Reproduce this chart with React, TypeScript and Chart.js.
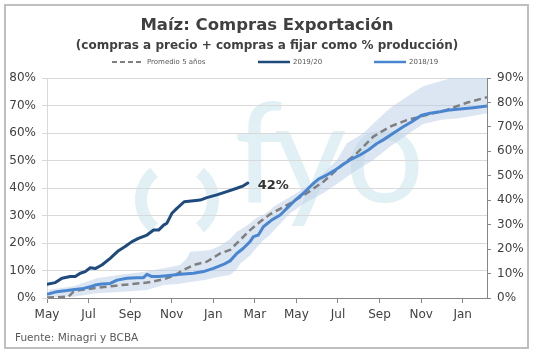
import React, { useEffect, useRef } from 'react';
import { Chart, registerables } from 'chart.js';

Chart.register(...registerables);

const FONT = 'DejaVu Sans';

// x values are months counted from the first "May" tick
const MONTH_TICKS = ['May', 'Jul', 'Sep', 'Nov', 'Jan', 'Mar', 'May', 'Jul', 'Sep', 'Nov', 'Jan'];
const X_MAX = 21.17;

const SERIES_NAMES = ['Promedio 5 años', '2019/20', '2018/19'];

const CUR_X = [0, 0.4, 0.72, 1.12, 1.36, 1.6, 1.84, 2.08, 2.32, 2.64, 3.04, 3.44, 3.76, 4.09, 4.4, 4.81, 5.13, 5.37, 5.61, 5.77, 6.01, 6.25, 6.6, 7.05, 7.37, 7.69, 8.17, 8.65, 9.13, 9.45, 9.66];
const CUR_Y = [5.0, 5.6, 7.2, 7.8, 7.8, 9.0, 9.6, 11.0, 10.7, 12.0, 14.4, 17.2, 18.7, 20.5, 21.7, 22.9, 24.7, 24.7, 26.5, 27.2, 30.8, 32.6, 35.0, 35.4, 35.6, 36.5, 37.5, 38.7, 39.9, 40.8, 41.8];

const PREV_X = [0, 0.48, 0.96, 1.44, 1.76, 2.08, 2.32, 2.64, 3.04, 3.37, 3.85, 4.33, 4.64, 4.81, 5.05, 5.37, 5.77, 6.41, 7.05, 7.53, 8.01, 8.49, 8.81, 9.13, 9.45, 9.77, 9.93, 10.17, 10.41, 10.82, 11.22, 11.54, 11.94, 12.34, 12.74, 13.06, 13.46, 13.86, 14.26, 14.58, 15.06, 15.46, 15.87, 16.18, 16.66, 17.14, 17.55, 18.03, 18.43, 18.91, 19.39, 19.87, 20.51, 21.17];
const PREV_Y = [1.3, 2.3, 2.7, 3.2, 3.5, 4.1, 4.7, 5.1, 5.3, 6.5, 7.2, 7.4, 7.4, 8.6, 7.8, 7.8, 8.1, 8.6, 9.0, 9.6, 10.8, 12.2, 13.5, 16.2, 18.1, 20.5, 22.3, 22.9, 25.9, 28.4, 30.2, 32.6, 35.6, 38.1, 41.1, 43.2, 44.7, 46.5, 48.6, 50.2, 52.0, 53.8, 56.2, 57.5, 59.9, 62.3, 64.1, 66.5, 67.2, 67.7, 68.4, 68.7, 69.2, 69.8];

const AVG_X = [0, 0.48, 1.04, 1.28, 1.6, 2.4, 3.2, 4.0, 4.81, 5.61, 6.09, 6.57, 7.05, 7.69, 8.33, 8.81, 9.29, 9.77, 10.25, 10.74, 11.7, 12.5, 13.3, 14.1, 14.9, 15.7, 16.5, 17.31, 17.95, 18.43, 19.23, 20.19, 21.17];
const AVG_Y = [0.2, 0.3, 0.5, 2.3, 2.9, 3.7, 4.4, 5.0, 5.6, 6.8, 8.0, 10.2, 12.0, 13.2, 16.2, 17.5, 21.1, 24.7, 27.7, 30.5, 34.4, 38.1, 42.3, 47.7, 52.6, 58.7, 62.3, 64.7, 65.9, 66.9, 68.4, 71.0, 73.0];

const BAND_X = [0.1, 1.28, 2.4, 3.68, 4.81, 5.61, 6.41, 6.73, 6.89, 7.53, 7.85, 8.33, 8.81, 9.13, 9.29, 9.77, 10.1, 10.41, 10.74, 10.9, 11.7, 12.5, 13.3, 13.94, 14.1, 14.42, 14.9, 15.22, 15.7, 16.5, 17.31, 18.1, 18.91, 19.23, 19.71, 20.19, 21.17];
const BAND_MAX = [3.0, 4.3, 7.2, 8.6, 9.6, 10.8, 12.0, 14.5, 16.8, 17.2, 17.5, 19.0, 21.5, 24.1, 24.7, 27.2, 29.3, 30.2, 32.0, 33.2, 36.8, 40.5, 45.3, 50.2, 52.0, 56.2, 58.5, 59.9, 63.5, 69.0, 73.2, 77.0, 78.8, 79.5, 81.0, 82.0, 84.0];
const BAND_MIN = [0.2, 0.5, 1.7, 2.3, 2.9, 4.7, 5.2, 5.6, 5.8, 6.5, 7.0, 7.8, 8.4, 10.5, 12.5, 15.5, 18.5, 21.0, 23.0, 24.5, 30.8, 35.0, 38.1, 41.5, 42.3, 44.0, 46.5, 48.0, 50.2, 55.0, 59.3, 63.3, 64.7, 65.0, 65.3, 65.8, 67.2];

const C_CUR = '#1F4A7E';
const C_PREV = '#4A86D0';
const C_AVG = '#7F7F7F';
const C_BAND = 'rgba(185,205,229,0.5)';
const C_WM = '#e1f0f4';
const C_TEXT = '#404040';

const pts = (xs: number[], ys: number[]) => xs.map((x, i) => ({ x, y: ys[i] }));

const decorPlugin = {
  id: 'decor',
  beforeDraw(chart: any) {
    const { ctx, chartArea } = chart;
    ctx.save();
    ctx.fillStyle = '#ffffff';
    ctx.fillRect(0, 0, chart.width, chart.height);
    ctx.strokeStyle = '#bfbfbf';
    ctx.lineWidth = 2;
    ctx.strokeRect(5, 5, 523, 343);
    // watermark logo
    const L = chartArea.left, T = chartArea.top;
    ctx.strokeStyle = C_WM;
    ctx.lineWidth = 12;
    const cx = L + 130, cy = T + 122, r = 36;
    ctx.beginPath();
    ctx.arc(cx, cy, r, Math.PI * 0.72, Math.PI * 1.28);
    ctx.stroke();
    ctx.beginPath();
    ctx.arc(cx, cy, r, -Math.PI * 0.28, Math.PI * 0.28);
    ctx.stroke();
    ctx.fillStyle = C_WM;
    ctx.font = '140px Lato';
    ctx.textBaseline = 'alphabetic';
    ctx.textAlign = 'left';
    const place = (ch: string, left: number) => {
      const m = ctx.measureText(ch);
      ctx.fillText(ch, left + m.actualBoundingBoxLeft, T + 124);
    };
    place('f', L + 190);
    place('y', L + 228);
    place('o', L + 303);
    ctx.restore();
  },
  afterDatasetsDraw(chart: any) {
    const { ctx } = chart;
    const meta = chart.getDatasetMeta(0);
    const last = meta.data[meta.data.length - 1];
    ctx.save();
    ctx.font = `bold 13px "${FONT}"`;
    ctx.fillStyle = '#333333';
    ctx.textBaseline = 'middle';
    ctx.textAlign = 'left';
    ctx.fillText(Math.round(CUR_Y[CUR_Y.length - 1]) + '%', last.x + 10, last.y + 3);
    ctx.restore();
  },
  afterDraw(chart: any) {
    const { ctx } = chart;
    ctx.save();
    // legend
    const items = [
      { name: SERIES_NAMES[0], color: C_AVG, dash: [5, 3], w: 2, x: 112 },
      { name: SERIES_NAMES[1], color: C_CUR, dash: [], w: 2.5, x: 258 },
      { name: SERIES_NAMES[2], color: C_PREV, dash: [], w: 2.5, x: 374 },
    ];
    const ly = 62;
    ctx.font = `7px "${FONT}"`;
    ctx.textBaseline = 'middle';
    ctx.textAlign = 'left';
    items.forEach((it) => {
      ctx.strokeStyle = it.color;
      ctx.lineWidth = it.w;
      ctx.setLineDash(it.dash);
      ctx.beginPath();
      ctx.moveTo(it.x, ly);
      ctx.lineTo(it.x + 32, ly);
      ctx.stroke();
      ctx.fillStyle = '#595959';
      ctx.fillText(it.name, it.x + 35, ly + 0.5);
    });
    ctx.setLineDash([]);
    // source
    ctx.font = `10.5px "${FONT}"`;
    ctx.fillStyle = '#595959';
    ctx.fillText('Fuente: Minagri y BCBA', 15, 338);
    ctx.restore();
  },
};

export default function App() {
  const ref = useRef<HTMLCanvasElement>(null);
  useEffect(() => {
    document.body.style.margin = '0';
    Chart.defaults.font.family = FONT;
    const canvas = ref.current!;
    const chart = new Chart(canvas, {
      type: 'line',
      data: {
        datasets: [
          { label: SERIES_NAMES[1], data: pts(CUR_X, CUR_Y), borderColor: C_CUR, borderWidth: 3, pointRadius: 0, tension: 0, fill: false, order: 0, yAxisID: 'y', borderJoinStyle: 'round', borderCapStyle: 'round' },
          { label: SERIES_NAMES[2], data: pts(PREV_X, PREV_Y), borderColor: C_PREV, borderWidth: 3, pointRadius: 0, tension: 0, fill: false, order: 1, yAxisID: 'y', borderJoinStyle: 'round' },
          { label: SERIES_NAMES[0], data: pts(AVG_X, AVG_Y), borderColor: C_AVG, borderWidth: 2.5, borderDash: [7, 4], pointRadius: 0, tension: 0, fill: false, order: 2, yAxisID: 'y' },
          { label: 'max', data: pts(BAND_X, BAND_MAX), borderWidth: 0, borderColor: 'rgba(0,0,0,0)', backgroundColor: C_BAND, pointRadius: 0, tension: 0, fill: '+1', order: 3, yAxisID: 'y' },
          { label: 'min', data: pts(BAND_X, BAND_MIN), borderWidth: 0, borderColor: 'rgba(0,0,0,0)', pointRadius: 0, tension: 0, fill: false, order: 4, yAxisID: 'y' },
        ],
      } as any,
      options: {
        animation: false,
        responsive: false,
        devicePixelRatio: 1,
        layout: { padding: 0 },
        plugins: {
          legend: { display: false },
          tooltip: { enabled: false },
          title: {
            display: true,
            text: 'Maíz: Compras Exportación',
            color: C_TEXT,
            font: { family: FONT, size: 16.5, weight: 'bold' },
            padding: { top: 15.6, bottom: 0 },
          },
          subtitle: {
            display: true,
            text: '(compras a precio + compras a fijar como % producción)',
            color: C_TEXT,
            font: { family: FONT, size: 12, weight: 'bold' },
            padding: { top: 3.4, bottom: 24.8 },
          },
        },
        scales: {
          x: {
            type: 'linear',
            min: 0,
            max: X_MAX,
            afterBuildTicks: (s: any) => {
              s.ticks = MONTH_TICKS.map((_, i) => ({ value: i * 2 }));
            },
            afterFit: (s: any) => {
              s.height = 56;
            },
            grid: { drawOnChartArea: false, drawTicks: true, tickLength: 5, color: '#868686' },
            border: { display: true, color: '#868686' },
            ticks: {
              callback: (_v: any, i: number) => MONTH_TICKS[i],
              autoSkip: false,
              maxRotation: 0,
              padding: 5,
              color: C_TEXT,
              font: { family: FONT, size: 12 },
            },
          },
          y: {
            position: 'left',
            min: 0,
            max: 80,
            afterFit: (s: any) => {
              s.width = 47;
            },
            grid: { color: '#d9d9d9', tickLength: 5 },
            border: { color: '#d9d9d9' },
            ticks: {
              stepSize: 10,
              callback: (v: any) => v + '%',
              padding: 6,
              color: C_TEXT,
              font: { family: FONT, size: 12 },
            },
          },
          y2: {
            position: 'right',
            min: 0,
            max: 90,
            afterFit: (s: any) => {
              s.width = 47;
            },
            grid: { drawOnChartArea: false, tickLength: 4, color: '#868686' },
            border: { color: '#868686' },
            ticks: {
              stepSize: 10,
              callback: (v: any) => v + '%',
              padding: 6,
              color: C_TEXT,
              font: { family: FONT, size: 12 },
            },
          },
        },
      } as any,
      plugins: [decorPlugin],
    });
    return () => chart.destroy();
  }, []);
  return (
    <div style={{ width: 534, height: 354 }}>
      <canvas ref={ref} width={534} height={354} style={{ display: 'block' }} />
    </div>
  );
}
